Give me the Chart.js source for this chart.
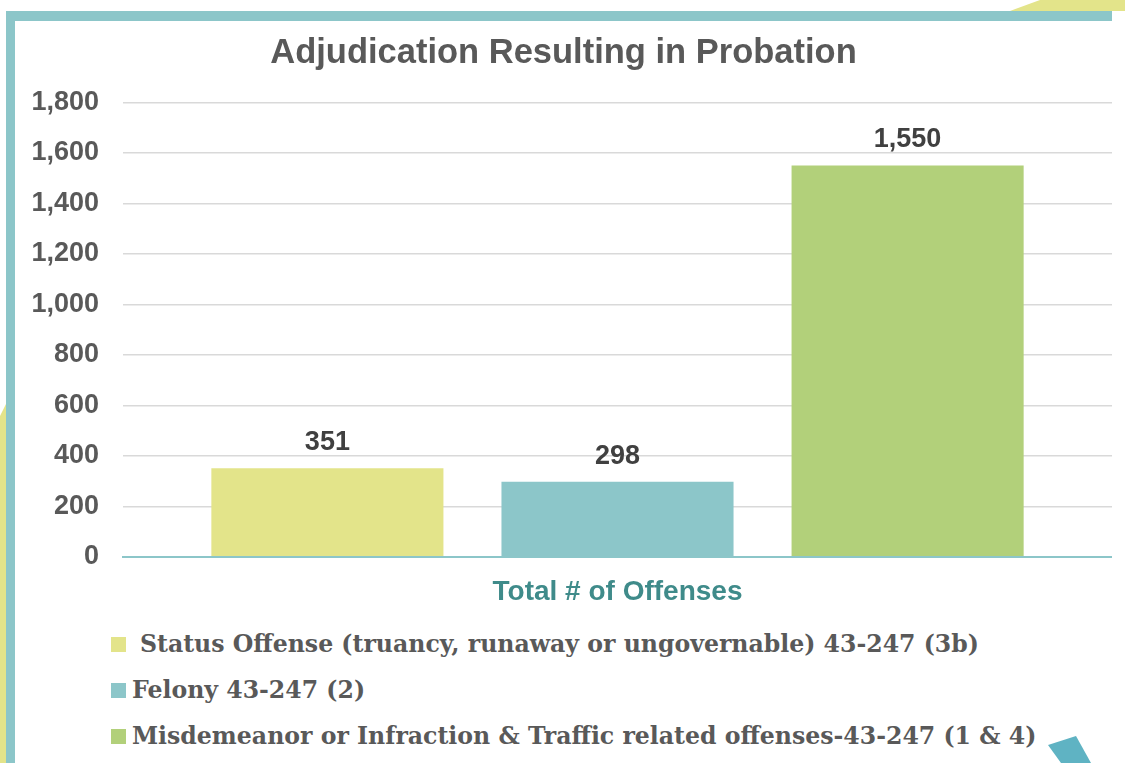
<!DOCTYPE html>
<html>
<head>
<meta charset="utf-8">
<script src="https://cdn.jsdelivr.net/npm/chart.js@4"></script>
<style>
  html, body { margin: 0; padding: 0; background: #fff; }
  body { width: 1125px; height: 763px; position: relative; overflow: hidden; font-family: "Liberation Sans", Arial, sans-serif; }
  .deco { position: absolute; }
  #card { position: absolute; left: 6px; top: 11px; width: 1097px; height: 760px;
          border-left: 9px solid #8cc6c9; border-top: 10px solid #8cc6c9; background: #fff; }
  #chartBox { position: absolute; left: 15px; top: 21px; width: 1097px; height: 600px; }
  #legend { position: absolute; left: 111px; top: 622px; font-family: "DejaVu Serif", serif; font-weight: bold;
            font-size: 23.6px; color: #595959; }
  #legend div { height: 46px; line-height: 44px; white-space: nowrap; }
  #legend span.sw { display: inline-block; width: 15px; height: 15px; margin-right: 6px; vertical-align: 0px; }
</style>
</head>
<body>
<svg class="deco" width="1125" height="763" style="left:0;top:0">
  <polygon points="1010,11 1040,0 1125,0 1125,11" fill="#e3e48a"/>
  <polygon points="0,416 7,402 7,763 0,763" fill="#e3e48a"/>
</svg>
<div id="card"></div>
<div id="chartBox"><canvas id="chart"></canvas></div>
<div id="legend"></div>
<svg class="deco" width="1125" height="763" style="left:0;top:0">
  <polygon points="1048,745 1076,736 1091,763 1061,763" fill="#5fb3c3"/>
</svg>
<script>
const title = 'Adjudication Resulting in Probation';
const categories = ['Total # of Offenses'];
const seriesNames = [
  'Status Offense (truancy, runaway or ungovernable) 43-247 (3b)',
  'Felony 43-247 (2)',
  'Misdemeanor or Infraction & Traffic related offenses-43-247 (1 & 4)'
];
const seriesValues = [351, 298, 1550];
const seriesColors = ['#e3e48a', '#8cc6c9', '#b2d07a'];
const yTicks = [0, 200, 400, 600, 800, 1000, 1200, 1400, 1600, 1800];

const barLabels = {
  id: 'barLabels',
  afterDatasetsDraw(chart) {
    const ctx = chart.ctx;
    ctx.save();
    ctx.font = 'bold 27px "Liberation Sans", Arial, sans-serif';
    ctx.fillStyle = '#404040';
    ctx.textAlign = 'center';
    ctx.textBaseline = 'bottom';
    chart.data.datasets.forEach((ds, i) => {
      const bar = chart.getDatasetMeta(i).data[0];
      ctx.fillText(ds.data[0].toLocaleString('en-US'), bar.x, bar.y - 12);
    });
    ctx.restore();
  }
};

new Chart(document.getElementById('chart'), {
  type: 'bar',
  data: {
    labels: categories,
    datasets: seriesNames.map((name, i) => ({
      label: name,
      data: [seriesValues[i]],
      backgroundColor: seriesColors[i],
      categoryPercentage: 0.88,
      barPercentage: 0.8
    }))
  },
  options: {
    responsive: true,
    maintainAspectRatio: false,
    animation: false,
    layout: { padding: 0 },
    plugins: {
      legend: { display: false },
      tooltip: { enabled: false },
      title: {
        display: true,
        text: title,
        color: '#595959',
        font: { family: '"Liberation Sans", Arial, sans-serif', size: 34.5, weight: 'bold' },
        padding: { top: 12, bottom: 28 }
      }
    },
    scales: {
      x: {
        grid: { display: false },
        border: { color: '#8cc6c9', width: 2 },
        ticks: {
          color: '#3f8b8a',
          padding: 10,
          font: { family: '"Liberation Sans", Arial, sans-serif', size: 28, weight: 'bold' }
        },
        afterFit(s) { s.height = 64; }
      },
      y: {
        min: 0,
        max: 1800,
        afterBuildTicks(s) { s.ticks = yTicks.map(v => ({ value: v })); },
        grid: {
          drawTicks: false,
          color: c => c.tick && c.tick.value === 0 ? '#8cc6c9' : '#d9d9d9',
          lineWidth: c => c.tick && c.tick.value === 0 ? 2 : 1.5
        },
        border: { display: false },
        ticks: {
          color: '#595959',
          padding: 24,
          font: { family: '"Liberation Sans", Arial, sans-serif', size: 27, weight: 'bold' },
          callback: v => v.toLocaleString('en-US')
        },
        afterFit(s) { s.width = 108; }
      }
    }
  },
  plugins: [barLabels]
});

const legend = document.getElementById('legend');
seriesNames.forEach((name, i) => {
  const row = document.createElement('div');
  const sw = document.createElement('span');
  sw.className = 'sw';
  sw.style.background = seriesColors[i];
  if (i === 0) sw.style.marginRight = '14px';
  row.appendChild(sw);
  row.appendChild(document.createTextNode(name));
  legend.appendChild(row);
});
</script>
</body>
</html>
